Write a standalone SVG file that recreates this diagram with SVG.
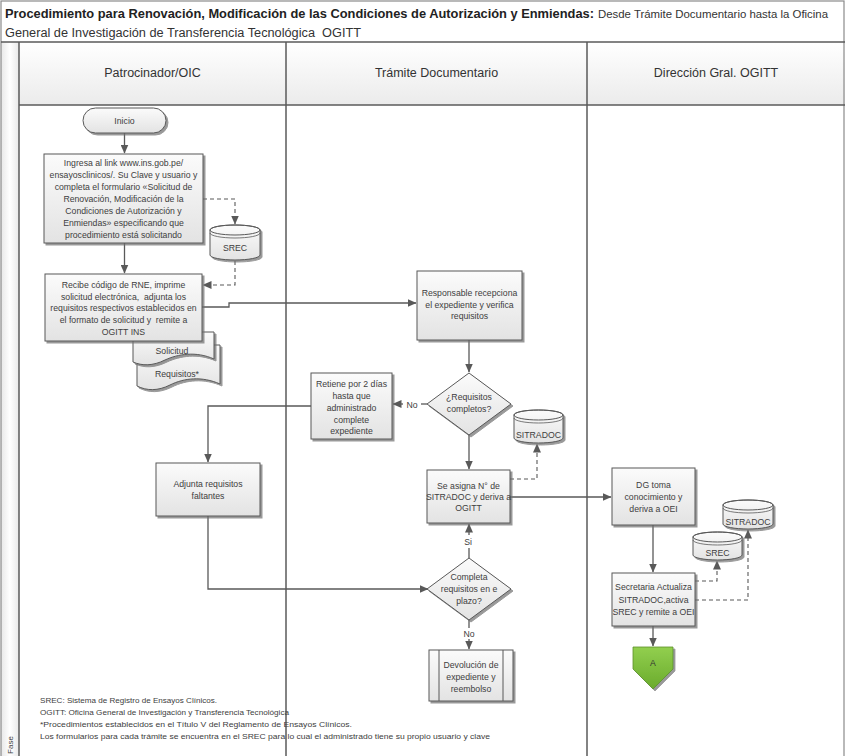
<svg xmlns="http://www.w3.org/2000/svg" width="845" height="756" viewBox="0 0 845 756">
<defs>
<linearGradient id="gBox" x1="0" y1="0" x2="0" y2="1"><stop offset="0" stop-color="#fbfbfb"/><stop offset="1" stop-color="#e3e3e3"/></linearGradient>
<linearGradient id="gHead" x1="0" y1="0" x2="0" y2="1"><stop offset="0" stop-color="#ffffff"/><stop offset="1" stop-color="#ebebeb"/></linearGradient>
<linearGradient id="gStrip" x1="0" y1="0" x2="1" y2="0"><stop offset="0" stop-color="#e8e8e8"/><stop offset="0.5" stop-color="#ffffff"/><stop offset="1" stop-color="#e8e8e8"/></linearGradient>
<linearGradient id="gGreen" x1="0" y1="0" x2="0" y2="1"><stop offset="0" stop-color="#92cf4f"/><stop offset="1" stop-color="#6aab2c"/></linearGradient>
<filter id="sh" x="-10%" y="-10%" width="130%" height="130%"><feDropShadow dx="2" dy="2" stdDeviation="0.6" flood-color="#6e6e6e" flood-opacity="0.7"/></filter>
<marker id="arr" markerUnits="userSpaceOnUse" markerWidth="9" markerHeight="8" refX="8.5" refY="4" orient="auto"><path d="M0,0 L9,4 L0,8 Z" fill="#595959"/></marker>
<style>
text{font-family:"Liberation Sans",Arial,sans-serif;fill:#404040;white-space:pre}
.t{font-size:8.7px;text-anchor:middle}
.hd{font-size:12.5px;text-anchor:middle;fill:#333}
.fn{font-size:8px}
.box{fill:url(#gBox);stroke:#595959;stroke-width:1;filter:url(#sh)}
.lane{stroke:#5a5a5a;stroke-width:1.5;fill:none}
.c{stroke:#595959;stroke-width:1.3;fill:none;marker-end:url(#arr)}
.cn{stroke:#595959;stroke-width:1.3;fill:none}
.d{stroke:#595959;stroke-width:1.1;fill:none;stroke-dasharray:4 3;marker-end:url(#arr)}
</style>
</defs>

<g id="frame">
<rect x="0" y="0" width="845" height="756" fill="#ffffff"/>
<rect x="1" y="42" width="18" height="720" fill="url(#gStrip)"/>
<rect x="19" y="42" width="267" height="63" fill="url(#gHead)"/>
<rect x="286" y="42" width="301" height="63" fill="url(#gHead)"/>
<rect x="587" y="42" width="258" height="63" fill="url(#gHead)"/>
<rect x="1" y="1" width="843" height="770" fill="none" stroke="#8a8a8a" stroke-width="1.2"/>
<line x1="1" y1="42" x2="845" y2="42" class="lane"/>
<line x1="19" y1="105" x2="845" y2="105" class="lane"/>
<line x1="19" y1="42" x2="19" y2="756" class="lane"/>
<line x1="286" y1="42" x2="286" y2="756" class="lane"/>
<line x1="587" y1="42" x2="587" y2="756" class="lane"/>
<text x="5" y="18" font-size="12.5" font-weight="bold" style="fill:#222" textLength="589" lengthAdjust="spacingAndGlyphs">Procedimiento para Renovación, Modificación de las Condiciones de Autorización y Enmiendas:</text>
<text x="598" y="18" font-size="11.4" style="fill:#333" textLength="230" lengthAdjust="spacingAndGlyphs">Desde Trámite Documentario hasta la Oficina</text>
<text x="5" y="37" font-size="12.5" style="fill:#333" textLength="356" lengthAdjust="spacingAndGlyphs">General de Investigación de Transferencia Tecnológica  OGITT</text>
<text class="hd" x="152.5" y="77">Patrocinador/OIC</text>
<text class="hd" x="436.5" y="77">Trámite Documentario</text>
<text class="hd" x="716" y="77">Dirección Gral. OGITT</text>
<text font-size="8" text-anchor="middle" transform="translate(13,745) rotate(-90)">Fase</text>
</g>

<g id="connectors">
<path class="c" d="M124.5,133 V153"/>
<path class="c" d="M124.5,243 V273"/>
<path class="d" d="M203,199 H235 V224"/>
<path class="d" d="M235,261 V285 H203"/>
<path class="c" d="M202,307 H229 V303 H416"/>
<path class="c" d="M469,340 V372"/>
<path class="cn" d="M427,404 H421"/>
<path class="c" d="M403,404 H393"/>
<path class="c" d="M311,406 H208 V462"/>
<path class="c" d="M208,516 V589 H428"/>
<path class="c" d="M469,435 V469"/>
<path class="d" d="M510,479 H537 V444"/>
<path class="c" d="M510,497 H611"/>
<path class="cn" d="M469,558 V548"/>
<path class="c" d="M469,535 V524"/>
<path class="cn" d="M469,620 V628"/>
<path class="c" d="M469,639 V649"/>
<path class="c" d="M653,525 V572"/>
<path class="d" d="M695,581 H717 V561"/>
<path class="d" d="M695,600 H748 V530"/>
<path class="c" d="M653,626 V646"/>
<text x="412" y="407.5" font-size="8.7" text-anchor="middle">No</text>
<text x="468" y="544.5" font-size="8.7" text-anchor="middle">Si</text>
<text x="469" y="637" font-size="8.7" text-anchor="middle">No</text>
</g>

<g id="inicio">
<rect class="box" x="83" y="108" width="83" height="25" rx="12.5"/>
<text class="t" x="124.5" y="124">Inicio</text>
</g>

<g id="ingresa">
<rect class="box" x="44" y="154" width="159" height="89"/>
<text class="t" x="123.5" y="166">Ingresa al link www.ins.gob.pe/</text>
<text class="t" x="123.5" y="178">ensayosclinicos/. Su Clave y usuario y</text>
<text class="t" x="123.5" y="190">completa el formulario «Solicitud de</text>
<text class="t" x="123.5" y="202">Renovación, Modificación de la</text>
<text class="t" x="123.5" y="214">Condiciones de Autorización y</text>
<text class="t" x="123.5" y="226">Enmiendas» especificando que</text>
<text class="t" x="123.5" y="237.5">procedimiento está solicitando</text>
</g>

<g id="srec1">
<path class="box" d="M210,230 V255 A25,5 0 0 0 260,255 V230 A25,5 0 0 0 210,230 Z"/>
<path d="M210,230 A25,5 0 0 0 260,230 A25,5 0 0 0 210,230 Z" fill="none" stroke="#595959"/>
<path d="M210,233 A25,5 0 0 0 260,233" fill="none" stroke="#595959" stroke-width="0.8"/>
<text class="t" x="235" y="251">SREC</text>
</g>

<g id="docs">
<path class="box" d="M137,345 H220 V384 C202,376 184,378 170,385 C158,391 147,391 137,386 Z"/>
<text class="t" x="177" y="377">Requisitos*</text>
<path class="box" d="M133,332 H214 V359 C196,351 178,354 165,360 C153,366 142,366 133,362 Z"/>
<text class="t" x="172" y="354">Solicitud</text>
</g>

<g id="recibe">
<rect class="box" x="45" y="274" width="157" height="67"/>
<text class="t" x="123.5" y="288">Recibe código de RNE, imprime</text>
<text class="t" x="123.5" y="299.7">solicitud electrónica,  adjunta los</text>
<text class="t" x="123.5" y="311.4">requisitos respectivos establecidos en</text>
<text class="t" x="123.5" y="323">el formato de solicitud y  remite a</text>
<text class="t" x="123.5" y="334.7">OGITT INS</text>
</g>

<g id="responsable">
<rect class="box" x="417" y="271" width="105" height="69"/>
<text class="t" x="469.5" y="296">Responsable recepciona</text>
<text class="t" x="469.5" y="307.5">el expediente y verifica</text>
<text class="t" x="469.5" y="319">requisitos</text>
</g>

<g id="requisitos-completos">
<polygon class="box" points="469,373 511,404 469,435 427,404"/>
<text class="t" x="469" y="400">¿Requisitos</text>
<text class="t" x="469" y="412">completos?</text>
</g>

<g id="retiene">
<rect class="box" x="311" y="373" width="81" height="66"/>
<text class="t" x="351.5" y="387">Retiene por 2 días</text>
<text class="t" x="351.5" y="399">hasta que</text>
<text class="t" x="351.5" y="411">administrado</text>
<text class="t" x="351.5" y="422.5">complete</text>
<text class="t" x="351.5" y="434">expediente</text>
</g>

<g id="adjunta">
<rect class="box" x="156" y="463" width="104" height="53"/>
<text class="t" x="208" y="487">Adjunta requisitos</text>
<text class="t" x="208" y="499">faltantes</text>
</g>

<g id="sitradoc1">
<path class="box" d="M514,415 V438 A24.5,5 0 0 0 563,438 V415 A24.5,5 0 0 0 514,415 Z"/>
<path d="M514,415 A24.5,5 0 0 0 563,415 A24.5,5 0 0 0 514,415 Z" fill="none" stroke="#595959"/>
<path d="M514,418 A24.5,5 0 0 0 563,418" fill="none" stroke="#595959" stroke-width="0.8"/>
<text class="t" x="538.5" y="438">SITRADOC</text>
</g>

<g id="se-asigna">
<rect class="box" x="427" y="470" width="83" height="53"/>
<text class="t" x="468.5" y="489">Se asigna N° de</text>
<text class="t" x="468.5" y="500">SITRADOC y deriva a</text>
<text class="t" x="468.5" y="511">OGITT</text>
</g>

<g id="completa">
<polygon class="box" points="469,558 511,589 469,620 427,589"/>
<text class="t" x="469" y="580">Completa</text>
<text class="t" x="469" y="592">requisitos en e</text>
<text class="t" x="469" y="604">plazo?</text>
</g>

<g id="devolucion">
<rect class="box" x="429" y="650" width="84" height="51"/>
<line x1="439" y1="650" x2="439" y2="701" stroke="#595959"/>
<line x1="503" y1="650" x2="503" y2="701" stroke="#595959"/>
<text class="t" x="471" y="668">Devolución de</text>
<text class="t" x="471" y="680">expediente y</text>
<text class="t" x="471" y="691.5">reembolso</text>
</g>

<g id="dg">
<rect class="box" x="612" y="468" width="83" height="57"/>
<text class="t" x="653.5" y="488">DG toma</text>
<text class="t" x="653.5" y="500">conocimiento y</text>
<text class="t" x="653.5" y="512">deriva a OEI</text>
</g>

<g id="sitradoc2">
<path class="box" d="M723,505 V524 A25,5 0 0 0 773,524 V505 A25,5 0 0 0 723,505 Z"/>
<path d="M723,505 A25,5 0 0 0 773,505 A25,5 0 0 0 723,505 Z" fill="none" stroke="#595959"/>
<path d="M723,508 A25,5 0 0 0 773,508" fill="none" stroke="#595959" stroke-width="0.8"/>
<text class="t" x="748" y="525">SITRADOC</text>
</g>

<g id="srec2">
<path class="box" d="M693,537 V555 A24.5,5 0 0 0 742,555 V537 A24.5,5 0 0 0 693,537 Z"/>
<path d="M693,537 A24.5,5 0 0 0 742,537 A24.5,5 0 0 0 693,537 Z" fill="none" stroke="#595959"/>
<path d="M693,540 A24.5,5 0 0 0 742,540" fill="none" stroke="#595959" stroke-width="0.8"/>
<text class="t" x="717.5" y="556">SREC</text>
</g>

<g id="secretaria">
<rect class="box" x="612" y="573" width="83" height="53"/>
<text class="t" x="653.5" y="590">Secretaria Actualiza</text>
<text class="t" x="653.5" y="603">SITRADOC,activa</text>
<text class="t" x="653.5" y="615">SREC y remite a OEI</text>
</g>

<g id="conector-a">
<polygon points="633,647 673,647 673,669 653,689 633,669" fill="url(#gGreen)" stroke="#5a8f2a" stroke-width="0.8" filter="url(#sh)"/>
<text class="t" x="653" y="666" style="fill:#333">A</text>
</g>

<g id="notas">
<text class="fn" x="40" y="703" textLength="177" lengthAdjust="spacingAndGlyphs">SREC: Sistema de Registro de Ensayos Clínicos.</text>
<text class="fn" x="40" y="715" textLength="249" lengthAdjust="spacingAndGlyphs">OGITT: Oficina General de Investigación y Transferencia Tecnológica</text>
<text class="fn" x="40" y="727" textLength="312" lengthAdjust="spacingAndGlyphs">*Procedimientos establecidos en el Título V del Reglamento de Ensayos Clínicos.</text>
<text class="fn" x="40" y="739" textLength="450" lengthAdjust="spacingAndGlyphs">Los formularios para cada trámite se encuentra en el SREC para lo cual el administrado tiene su propio usuario y clave</text>
</g>
</svg>
